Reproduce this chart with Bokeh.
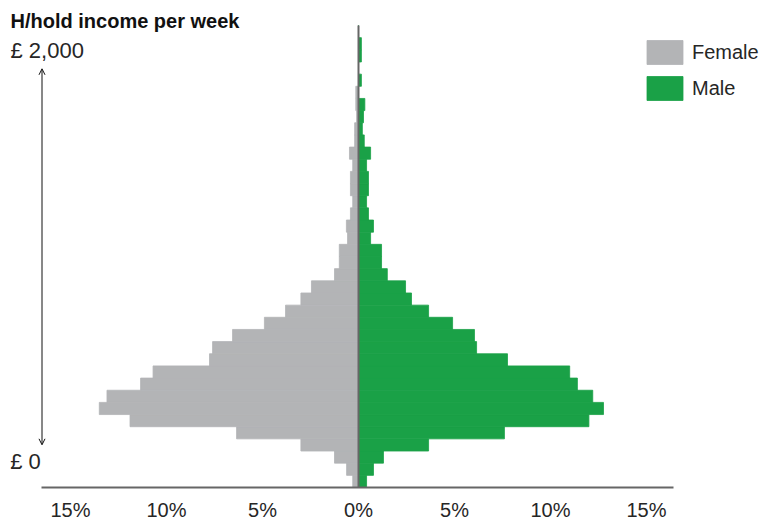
from bokeh.plotting import figure
from bokeh.models import (Range1d, Label, LabelSet, ColumnDataSource, Legend,
                          LegendItem, Arrow, OpenHead)
from bokeh.core.properties import value
from bokeh.embed import file_html
from bokeh.resources import INLINE

# ---- data (income bands of equal width, bottom = lowest income) ----
band_index = list(range(38))
female = [0.30, 0.62, 1.25, 3.00, 6.35, 11.90, 13.50, 13.10, 11.35, 10.70,
          7.76, 7.60, 6.56, 4.90, 3.80, 3.00, 2.45, 1.25, 1.00, 1.00,
          0.57, 0.63, 0.42, 0.30, 0.42, 0.42, 0.30, 0.47, 0.20, 0.20,
          0.10, 0.14, 0.14, 0.00, 0.00, 0.00, 0.00, 0.00]
male = [0.42, 0.78, 1.30, 3.65, 7.60, 12.00, 12.76, 12.20, 11.40, 11.00,
        7.76, 6.15, 6.04, 4.90, 3.65, 2.76, 2.45, 1.50, 1.20, 1.20,
        0.63, 0.78, 0.52, 0.42, 0.52, 0.52, 0.42, 0.63, 0.30, 0.20,
        0.26, 0.33, 0.00, 0.15, 0.00, 0.15, 0.15, 0.00]
tick_values = [-15, -10, -5, 0, 5, 10, 15]
tick_labels = ["15%", "10%", "5%", "0%", "5%", "10%", "15%"]
series_names = ["Female", "Male"]
title_text = "H/hold income per week"
top_label = "£ 2,000"
bottom_label = "£ 0"

GRAY = "#b3b4b6"
GREEN = "#1aa147"
TEXT = "#262626"
AXIS = "#666666"
FONT = "Liberation Sans"

# whole canvas is the plot frame so that no text is clipped
W, H = 763, 521
PX_PER_PCT = 19.2
PX_PER_BAND = 12.158
ZERO_X = 358.0      # canvas px of 0 %
BASE_Y = 487.0      # canvas px (from top) of lowest band edge
x_lo = -ZERO_X / PX_PER_PCT
x_hi = (W - ZERO_X) / PX_PER_PCT
y_lo = -(H - BASE_Y) / PX_PER_BAND
y_hi = BASE_Y / PX_PER_BAND
axis_lo = (41 - ZERO_X) / PX_PER_PCT
axis_hi = (673 - ZERO_X) / PX_PER_PCT

p = figure(width=W, height=H, output_backend="svg", toolbar_location=None,
           x_range=Range1d(x_lo, x_hi), y_range=Range1d(y_lo, y_hi),
           min_border=0, min_border_left=0, min_border_right=0,
           min_border_top=0, min_border_bottom=0)
p.outline_line_color = None
p.grid.visible = False
p.xaxis.visible = False
p.yaxis.visible = False

src = ColumnDataSource(dict(
    y=[i + 0.5 for i in band_index],
    female_left=[-v for v in female],
    male=male,
    zero=[0.0] * len(band_index),
))
rf = p.hbar(y="y", left="female_left", right="zero", height=1.0, source=src,
            fill_color=GRAY, line_color=GRAY, line_width=0.8)
rm = p.hbar(y="y", left="zero", right="male", height=1.0, source=src,
            fill_color=GREEN, line_color=GREEN, line_width=0.8)

# baseline (x axis line) and zero line
p.segment(x0=[axis_lo], y0=[0], x1=[axis_hi], y1=[0], line_color=AXIS, line_width=2)
p.segment(x0=[0], y0=[0], x1=[0], y1=[len(band_index)], line_color=AXIS, line_width=2)

legend = Legend(items=[LegendItem(label=series_names[0], renderers=[rf]),
                       LegendItem(label=series_names[1], renderers=[rm])],
                location=(642, 418), glyph_width=45, glyph_height=30,
                label_standoff=5, spacing=6, padding=0, margin=0,
                border_line_color=None, background_fill_alpha=0,
                label_text_font=FONT, label_text_font_size="20px",
                label_text_color=TEXT, label_height=30)
p.add_layout(legend)

p.add_layout(Label(x=10, y=500.5, x_units="screen", y_units="screen", text=title_text,
                   text_font=FONT, text_font_size="20px", text_font_style="bold",
                   text_color="#111111", text_baseline="alphabetic"))
p.add_layout(Label(x=10, y=471, x_units="screen", y_units="screen", text=top_label,
                   text_font=FONT, text_font_size="22px", text_color=TEXT,
                   text_baseline="alphabetic"))
p.add_layout(Label(x=9.7, y=60, x_units="screen", y_units="screen", text=bottom_label,
                   text_font=FONT, text_font_size="22px", text_color=TEXT,
                   text_baseline="alphabetic"))

tick_src = ColumnDataSource(dict(x=tick_values, y=[5] * len(tick_values), t=tick_labels))
p.add_layout(LabelSet(x="x", y="y", text="t", source=tick_src, y_units="screen",
                      text_align="center", text_baseline="alphabetic",
                      text_font=value(FONT), text_font_size=value("20px"),
                      text_color=TEXT))

p.add_layout(Arrow(x_start=41.5, y_start=76.7, x_end=41.5, y_end=452.7,
                   start_units="screen", end_units="screen",
                   start=OpenHead(size=6, line_width=1, line_color="#111111"),
                   end=OpenHead(size=6, line_width=1, line_color="#111111"),
                   line_width=1, line_color="#111111"))

open("out.html", "w").write(file_html(p, INLINE))
